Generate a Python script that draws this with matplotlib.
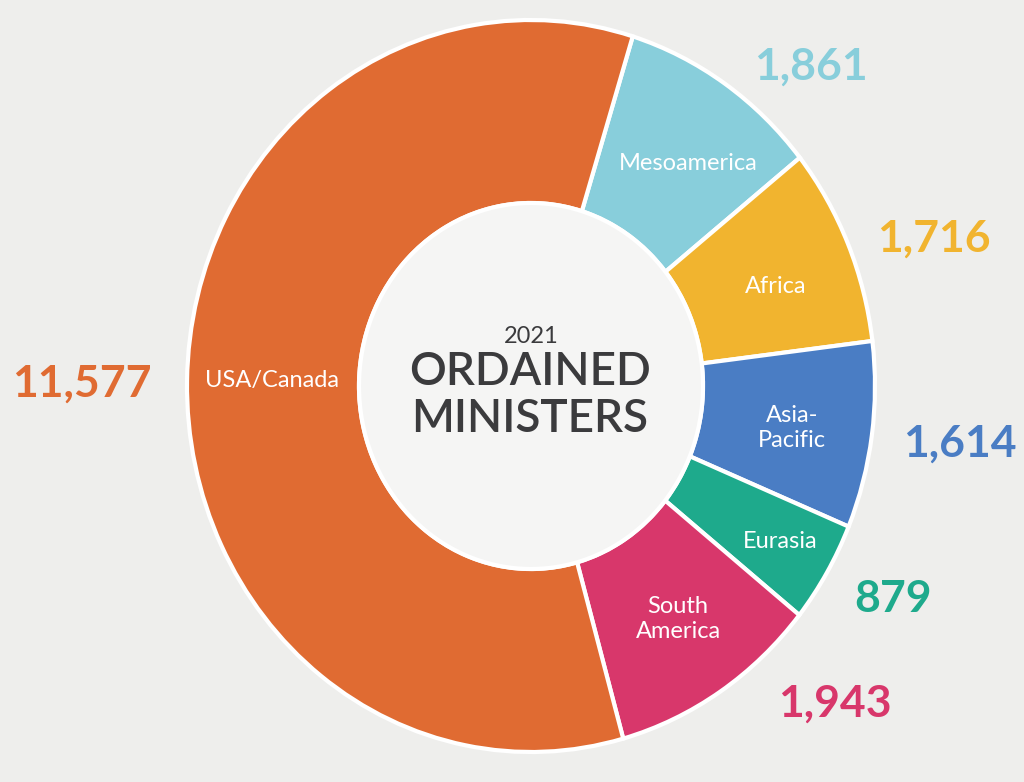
import matplotlib
matplotlib.use("Agg")
import matplotlib.pyplot as plt
from matplotlib.patches import Circle

# Data
regions = ["Mesoamerica", "Africa", "Asia-Pacific", "Eurasia", "South America", "USA/Canada"]
wedge_labels = ["Mesoamerica", "Africa", "Asia-\nPacific", "Eurasia", "South\nAmerica", "USA/Canada"]
ministers = [1861, 1716, 1614, 879, 1943, 11577]
colors = ["#88cedb", "#f1b42f", "#4a7dc4", "#1eaa8c", "#d8376b", "#e06b32"]

W, H = 1024, 782
plt.rcParams["font.family"] = ["Lato", "DejaVu Sans"]

fig = plt.figure(figsize=(W / 100, H / 100), dpi=100)
fig.patch.set_facecolor("#eeeeec")
ax = fig.add_axes([0, 0, 1, 1])

cx, cy, rx, ry = 531, 386, 344, 366
ax.pie(ministers, colors=colors, startangle=72.8, counterclock=False, radius=1,
       wedgeprops=dict(width=0.5, edgecolor="white", linewidth=3))
ax.add_patch(Circle((0, 0), 0.5, facecolor="#f5f5f4", edgecolor="white", linewidth=3))
ax.set_aspect("auto")
ax.set_xlim(-cx / rx, (W - cx) / rx)
ax.set_ylim(-(H - cy) / ry, cy / ry)
ax.axis("off")


def px(x, y):
    return x / W, 1 - y / H


# label positions in pixels (center x, baseline y)
value_pos = [(811, 80), (934, 252), (960, 457), (893, 612), (835, 717), (82, 397)]
label_pos = [(688, 170), (776, 293), (792, 422), (780, 548), (678, 613), (272, 387)]

for name, lab, val, col, vp, lp in zip(regions, wedge_labels, ministers, colors, value_pos, label_pos):
    fig.text(*px(*vp), f"{val:,}", color=col, fontsize=32, fontweight="bold",
             ha="center", va="baseline")
    lines = lab.split("\n")
    for i, line in enumerate(lines):
        fig.text(*px(lp[0], lp[1] + i * 25), line, color="white", fontsize=17,
                 ha="center", va="baseline")

fig.text(*px(531, 343), "2021", color="#3b3b3d", fontsize=17, ha="center", va="baseline")
fig.text(*px(530, 385), "ORDAINED", color="#3b3b3d", fontsize=33, fontweight="semibold",
         ha="center", va="baseline")
fig.text(*px(530, 432), "MINISTERS", color="#3b3b3d", fontsize=33, fontweight="semibold",
         ha="center", va="baseline")

fig.savefig("out.png", dpi=100, facecolor=fig.get_facecolor())
